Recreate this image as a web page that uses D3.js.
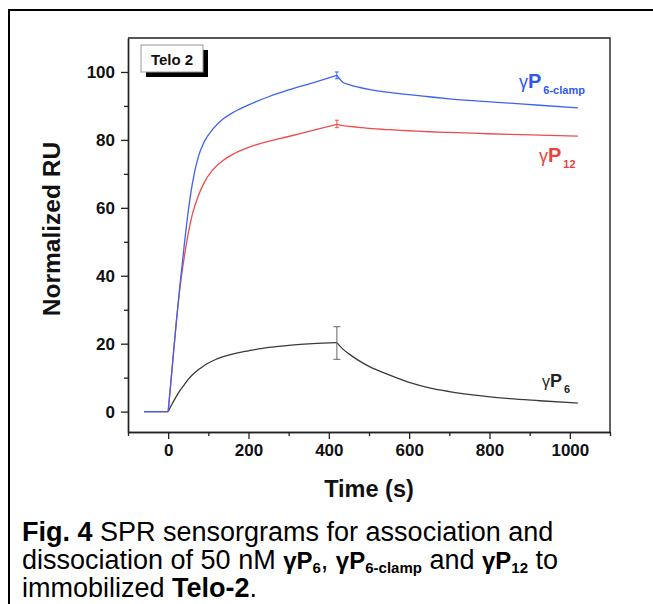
<!DOCTYPE html>
<html>
<head>
<meta charset="utf-8">
<script src="https://cdn.jsdelivr.net/npm/d3@7"></script>
<style>
  body { margin: 0; background: #fff; }
  svg { display: block; font-family: "Liberation Sans", Arial, sans-serif; }
</style>
</head>
<body>
<div id="chart"></div>
<script>
// time points (s)
var baseTime = [-60, 0];
var assocTime = [0, 10, 20, 30, 40, 50, 60, 75, 90, 110, 135, 165, 200, 250, 300, 360, 420];
var dissocTime = [420, 435, 450, 475, 500, 550, 600, 650, 700, 775, 850, 925, 1020];

// normalized RU
var clampAssoc = [0, 13, 26, 38, 49, 59, 67, 75, 79.5, 83, 86, 88.3, 90.3, 92.7, 94.7, 96.8, 99];
var clampDissoc = [99, 97, 96.3, 95.5, 94.9, 94.0, 93.3, 92.7, 92.1, 91.4, 90.8, 90.2, 89.4];
var p12Assoc = [0, 13, 26, 37, 45.5, 52.5, 58, 63.5, 67.5, 71, 73.8, 76, 77.8, 79.6, 81, 82.8, 84.6];
var p12Dissoc = [84.6, 84.2, 84.0, 83.7, 83.4, 83.0, 82.7, 82.4, 82.2, 81.9, 81.6, 81.4, 81.1];
var p6Assoc = [0, 2.3, 4.4, 6.3, 7.9, 9.5, 10.8, 12.3, 13.6, 14.9, 16.1, 17.1, 17.9, 18.9, 19.5, 20.0, 20.3];
var p6Dissoc = [20.3, 18.4, 17.0, 15.0, 13.3, 10.8, 8.6, 7.0, 5.9, 4.7, 3.8, 3.2, 2.5];

// error bars at end of injection
var errTime = 420;
var clampErr = [98.0, 100.0];
var p12Err = [83.6, 85.8];
var p6Err = [15.4, 25.0];

var xTicks = [0, 200, 400, 600, 800, 1000];
var xMinor = [-100, 100, 300, 500, 700, 900, 1100];
var yTicks = [0, 20, 40, 60, 80, 100];
var yMinor = [10, 30, 50, 70, 90];

var width = 653, height = 604;
var plotLeft = 128, plotRight = 610, plotTop = 38, plotBottom = 432;

var svg = d3.select("#chart").append("svg")
    .attr("width", width)
    .attr("height", height);

svg.append("rect").attr("width", width).attr("height", height).attr("fill", "#fff");

// outer figure border
svg.append("path")
    .attr("d", "M9,604V10H653")
    .attr("fill", "none")
    .attr("stroke", "#000")
    .attr("stroke-width", 2);

var x = d3.scaleLinear().domain([-100, 1100]).range([plotLeft, plotRight]);
var y = d3.scaleLinear().domain([-6, 110]).range([plotBottom, plotTop]);

function pts(t, v) {
    return t.map(function (d, i) { return [d, v[i]]; });
}

var series = [
    { name: "p6", color: "#3a3a3a", assoc: p6Assoc, dissoc: p6Dissoc, err: p6Err, cap: 3.5 },
    { name: "p12", color: "#ef4b4b", assoc: p12Assoc, dissoc: p12Dissoc, err: p12Err, cap: 2 },
    { name: "clamp", color: "#3d62f2", assoc: clampAssoc, dissoc: clampDissoc, err: clampErr, cap: 2 }
];

var line = d3.line()
    .x(function (d) { return x(d[0]); })
    .y(function (d) { return y(d[1]); })
    .curve(d3.curveMonotoneX);

var lineLin = d3.line()
    .x(function (d) { return x(d[0]); })
    .y(function (d) { return y(d[1]); });

series.forEach(function (s) {
    var g = svg.append("g").attr("class", "series-" + s.name);
    g.append("path")
        .attr("d", lineLin(pts(baseTime, [0, 0])))
        .attr("fill", "none").attr("stroke", s.color).attr("stroke-width", 1.2);
    g.append("path")
        .attr("d", line(pts(assocTime, s.assoc)))
        .attr("fill", "none").attr("stroke", s.color).attr("stroke-width", 1.3);
    g.append("path")
        .attr("d", line(pts(dissocTime, s.dissoc)))
        .attr("fill", "none").attr("stroke", s.color).attr("stroke-width", 1.3);

    // error bar
    var ex = x(errTime);
    var ec = s.name == "p6" ? "#666" : s.color;
    g.append("line")
        .attr("x1", ex).attr("x2", ex)
        .attr("y1", y(s.err[0])).attr("y2", y(s.err[1]))
        .attr("stroke", ec).attr("stroke-width", 1);
    s.err.forEach(function (e) {
        g.append("line")
            .attr("x1", ex - s.cap).attr("x2", ex + s.cap)
            .attr("y1", y(e)).attr("y2", y(e))
            .attr("stroke", ec).attr("stroke-width", 1);
    });
});

// axes
svg.append("g")
    .attr("transform", "translate(0," + plotBottom + ")")
    .call(d3.axisBottom(x).tickValues(xTicks).tickFormat(d3.format("d")).tickSize(7).tickPadding(5).tickSizeOuter(0));
svg.append("g")
    .attr("transform", "translate(0," + plotBottom + ")")
    .call(d3.axisBottom(x).tickValues(xMinor).tickSize(4).tickFormat("").tickSizeOuter(0));

svg.append("g")
    .attr("transform", "translate(" + plotLeft + ",0)")
    .call(d3.axisLeft(y).tickValues(yTicks).tickFormat(d3.format("d")).tickSize(7).tickPadding(6).tickSizeOuter(0));
svg.append("g")
    .attr("transform", "translate(" + plotLeft + ",0)")
    .call(d3.axisLeft(y).tickValues(yMinor).tickSize(4).tickFormat("").tickSizeOuter(0));

svg.selectAll(".tick line").attr("stroke", "#222").attr("stroke-width", 1.3);
svg.selectAll(".domain").attr("stroke", "#222").attr("stroke-width", 1.4);
svg.selectAll(".tick text")
    .attr("font-family", "'Liberation Sans', Arial, sans-serif")
    .attr("font-size", 17)
    .attr("font-weight", "bold")
    .attr("fill", "#111");

// plot frame (top and right)
svg.append("path")
    .attr("d", "M" + plotLeft + "," + plotTop + "H" + plotRight + "V" + plotBottom)
    .attr("fill", "none")
    .attr("stroke", "#222")
    .attr("stroke-width", 1.4);

// axis titles
svg.append("text")
    .attr("x", 369)
    .attr("y", 497)
    .attr("text-anchor", "middle")
    .attr("font-size", 23.5)
    .attr("font-weight", "bold")
    .attr("fill", "#111")
    .text("Time (s)");

svg.append("text")
    .attr("transform", "translate(60,229) rotate(-90)")
    .attr("text-anchor", "middle")
    .attr("font-size", 24.5)
    .attr("font-weight", "bold")
    .attr("fill", "#111")
    .text("Normalized RU");

// legend box
svg.append("rect")
    .attr("x", 146).attr("y", 50).attr("width", 62).attr("height", 27)
    .attr("fill", "#000");
svg.append("rect")
    .attr("x", 141).attr("y", 45).attr("width", 62).attr("height", 27)
    .attr("fill", "#fff").attr("stroke", "#999").attr("stroke-width", 1);
svg.append("text")
    .attr("x", 172).attr("y", 64.5)
    .attr("text-anchor", "middle")
    .attr("font-size", 15)
    .attr("font-weight", "bold")
    .attr("fill", "#111")
    .text("Telo 2");

// curve labels
var labels = [
    { x: 519, y: 88, sub: "6-clamp", color: "#2f57ee", size: 20 },
    { x: 539, y: 162, sub: "12", color: "#ec3f3f", size: 20 },
    { x: 542, y: 387, sub: "6", color: "#222", size: 18 }
];
labels.forEach(function (l) {
    var t = svg.append("text")
        .attr("x", l.x).attr("y", l.y)
        .attr("fill", l.color);
    t.append("tspan").attr("font-size", l.size - 2).text("γ");
    t.append("tspan").attr("font-size", l.size).attr("font-weight", "bold").text("P");
    t.append("tspan").attr("font-size", 11).attr("font-weight", "bold").attr("dx", 2).attr("dy", 6).text(l.sub);
});

// caption
var cap = svg.append("g")
    .attr("font-size", 27)
    .attr("fill", "#000");

var c1 = cap.append("text").attr("x", 22).attr("y", 541);
c1.append("tspan").attr("font-weight", "bold").text("Fig. 4");
c1.append("tspan").text(" SPR sensorgrams for association and");

var c2 = cap.append("text").attr("x", 22).attr("y", 569);
c2.append("tspan").text("dissociation of 50 nM ");
c2.append("tspan").attr("font-weight", "bold").attr("font-size", 24).text("γP");
c2.append("tspan").attr("font-weight", "bold").attr("font-size", 15).attr("dy", 4).text("6");
c2.append("tspan").attr("dy", -4).text(", ");
c2.append("tspan").attr("font-weight", "bold").attr("font-size", 24).text("γP");
c2.append("tspan").attr("font-weight", "bold").attr("font-size", 15).attr("dy", 4).text("6-clamp");
c2.append("tspan").attr("dy", -4).text(" and ");
c2.append("tspan").attr("font-weight", "bold").attr("font-size", 24).text("γP");
c2.append("tspan").attr("font-weight", "bold").attr("font-size", 15).attr("dy", 4).text("12");
c2.append("tspan").attr("dy", -4).text(" to");

var c3 = cap.append("text").attr("x", 22).attr("y", 597);
c3.append("tspan").text("immobilized ");
c3.append("tspan").attr("font-weight", "bold").text("Telo-2");
c3.append("tspan").text(".");
</script>
</body>
</html>
